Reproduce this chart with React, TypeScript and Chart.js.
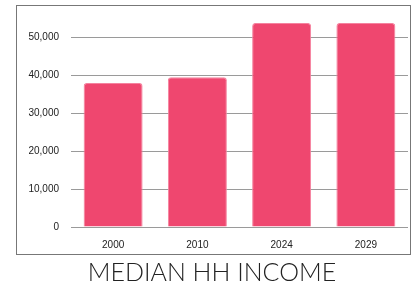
import React, { useEffect, useRef } from "react";
import { Chart, registerables } from "chart.js";

Chart.register(...registerables);

const categories = ["2000", "2010", "2024", "2029"];
const medianIncome = [37900, 39400, 53700, 53700];
const yTickValues = [0, 10000, 20000, 30000, 40000, 50000];
const title = "MEDIAN HH INCOME";

export default function App() {
  const ref = useRef<HTMLCanvasElement | null>(null);
  useEffect(() => {
    if (!ref.current) return;
    const chart = new Chart(ref.current, {
      type: "bar",
      data: {
        labels: categories,
        datasets: [
          {
            data: medianIncome,
            backgroundColor: "rgb(239,71,111)",
            borderColor: "rgba(245,130,158,1)",
            borderWidth: 1,
            borderRadius: 3,
            borderSkipped: "bottom",
            barPercentage: 0.7,
            categoryPercentage: 1,
          },
        ],
      },
      options: {
        responsive: false,
        animation: false,
        layout: { padding: { top: 18, right: 8, bottom: 0, left: 0 } },
        plugins: { legend: { display: false }, tooltip: { enabled: false }, title: { display: false } },
        scales: {
          x: {
            grid: { display: false, drawTicks: false },
            border: { display: false },
            ticks: { color: "#222", font: { family: "Liberation Sans", size: 10 }, padding: 12 },
            afterFit: (s: any) => { s.height = 56; },
          },
          y: {
            min: 0,
            max: 55000,
            afterBuildTicks: (s: any) => { s.ticks = yTickValues.map((v) => ({ value: v })); },
            grid: { color: "#9a9a9a", drawTicks: false, lineWidth: 1 },
            border: { display: false },
            ticks: {
              color: "#222",
              font: { family: "Liberation Sans", size: 10 },
              padding: 12,
              callback: (v: any) => Number(v).toLocaleString("en-US"),
            },
            afterFit: (s: any) => { s.width = 71; },
          },
        },
      },
    });
    return () => chart.destroy();
  }, []);
  return (
    <div style={{ position: "absolute", left: 0, top: 0, width: 416, height: 283, background: "#fff" }}>
      <div style={{ position: "absolute", left: 16, top: 5, width: 393, height: 248, border: "1px solid #777" }} />
      <canvas ref={ref} width={416} height={283} style={{ position: "absolute", left: 0, top: 0, width: 416, height: 283 }} />
      <div style={{ position: "absolute", left: 0, top: 255, width: 424, textAlign: "center", fontFamily: "Lato", fontWeight: 300, fontSize: 25, color: "#222", lineHeight: "32px" }}>{title}</div>
    </div>
  );
}
